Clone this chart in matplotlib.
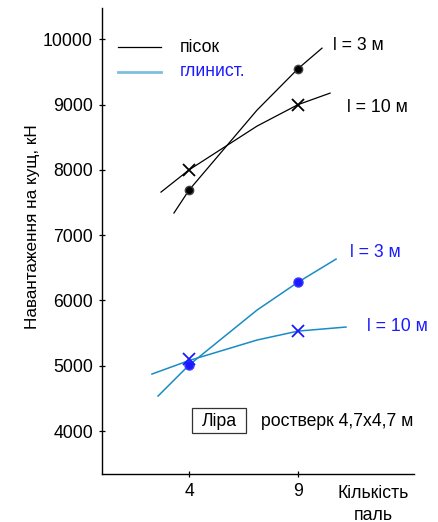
import matplotlib
matplotlib.use("Agg")
import matplotlib.pyplot as plt
from matplotlib.patches import Rectangle

plt.rcParams['font.family'] = ['Liberation Sans', 'DejaVu Sans']
FS = 12.7

# categories (pile count) -> axis positions 1, 2
tick_labels = ["4", "9"]
tick_pos = [1, 2]

# data points
sand_l3_pts = [7690, 9550]
sand_l10_pts = [8000, 9000]
clay_l3_pts = [5010, 6280]
clay_l10_pts = [5110, 5530]

# trend curves
sand_l3_x = [0.862, 1.0, 1.624, 2.0, 2.22]
sand_l3_y = [7340, 7690, 8916, 9550, 9865]
sand_l10_x = [0.743, 1.0, 1.624, 2.0, 2.294]
sand_l10_y = [7660, 8000, 8671, 9000, 9176]
clay_l3_x = [0.716, 1.0, 1.624, 2.0, 2.349]
clay_l3_y = [4536, 5010, 5853, 6280, 6634]
clay_l10_x = [0.66, 1.0, 1.624, 2.0, 2.44]
clay_l10_y = [4873, 5080, 5394, 5531, 5593]

yticks = [4000, 5000, 6000, 7000, 8000, 9000, 10000]

BLACK = "#000000"
TEAL = "#1a8cc4"
BLUE = "#1a1aff"
LEG_BLUE = "#7cc0dc"

fig = plt.figure(figsize=(4.39, 5.22), dpi=100)
ax = fig.add_axes([102/439, 1-474/522, (414-102)/439, (474-8)/522])
ax.set_xlim(0.2018, 3.064)
ax.set_ylim(3342, 10480)

ax.plot(sand_l3_x, sand_l3_y, color=BLACK, lw=0.9)
ax.plot(sand_l10_x, sand_l10_y, color=BLACK, lw=0.9)
ax.plot(clay_l3_x, clay_l3_y, color=TEAL, lw=1.1)
ax.plot(clay_l10_x, clay_l10_y, color=TEAL, lw=1.1)

ax.plot(tick_pos, sand_l3_pts, 'o', color=BLACK, ms=6, mec="#444444", mew=1)
ax.plot(tick_pos, sand_l10_pts, 'x', color=BLACK, ms=9, mew=1.3)
ax.plot(tick_pos, clay_l3_pts, 'o', color=BLUE, ms=6.5, mec="#3a3aff", mew=1)
ax.plot(tick_pos, clay_l10_pts, 'x', color=BLUE, ms=8.5, mew=1.3)

for s in ['top', 'right']:
    ax.spines[s].set_visible(False)
for s in ['left', 'bottom']:
    ax.spines[s].set_linewidth(1.0)

ax.set_xticks(tick_pos)
ax.set_xticklabels(tick_labels)
ax.set_yticks(yticks)
ax.tick_params(direction='inout', length=5, width=0.9, labelsize=FS, pad=4)
ax.set_ylabel("Навантаження на кущ, кН", fontsize=12.3, labelpad=10)
ax.yaxis.set_label_coords(-0.2, 0.53)

# curve labels
ax.text(2.321, 9911, "l = 3 м", fontsize=FS, color=BLACK, va='center', ha='left')
ax.text(2.45, 8962, "l = 10 м", fontsize=FS, color=BLACK, va='center', ha='left')
ax.text(2.477, 6741, "l = 3 м", fontsize=FS, color=BLUE, va='center', ha='left')
ax.text(2.633, 5608, "l = 10 м", fontsize=FS, color=BLUE, va='center', ha='left')

# legend (manual)
def px(x, y):
    return ((x - 102) / 312, (474 - y) / 466)

x0, y0 = px(118, 47)
x1, _ = px(161, 47)
ax.plot([x0, x1], [y0, y0], color=BLACK, lw=0.9, transform=ax.transAxes, clip_on=False)
tx, _ = px(180, 47)
ax.text(tx, y0, "пісок", fontsize=FS, color=BLACK, va='center', ha='left', transform=ax.transAxes)
_, y2 = px(118, 72)
ax.plot([x0, x1], [y2, y2], color=LEG_BLUE, lw=2, transform=ax.transAxes, clip_on=False)
ax.text(tx, y2, "глинист.", fontsize=FS, color=BLUE, va='center', ha='left', transform=ax.transAxes)

# Ліра box
bx0, by0 = px(192, 433)
bx1, by1 = px(246, 408)
ax.add_patch(Rectangle((bx0, by0), bx1 - bx0, by1 - by0, transform=ax.transAxes,
                       fill=False, edgecolor="#333333", lw=0.9, clip_on=False))
cx, cy = px(219, 421)
ax.text(cx, cy, "Ліра", fontsize=FS, ha='center', va='center', transform=ax.transAxes)
rx, _ = px(261, 421)
ax.text(rx, cy, "ростверк 4,7х4,7 м", fontsize=FS, ha='left', va='center', transform=ax.transAxes)

# x axis label
lx, ly = px(373, 494)
ax.text(lx, ly, "Кількість", fontsize=FS, ha='center', va='center', transform=ax.transAxes, clip_on=False)
lx, ly = px(373, 515)
ax.text(lx, ly, "паль", fontsize=FS, ha='center', va='center', transform=ax.transAxes, clip_on=False)

fig.savefig("out.png", dpi=100)
